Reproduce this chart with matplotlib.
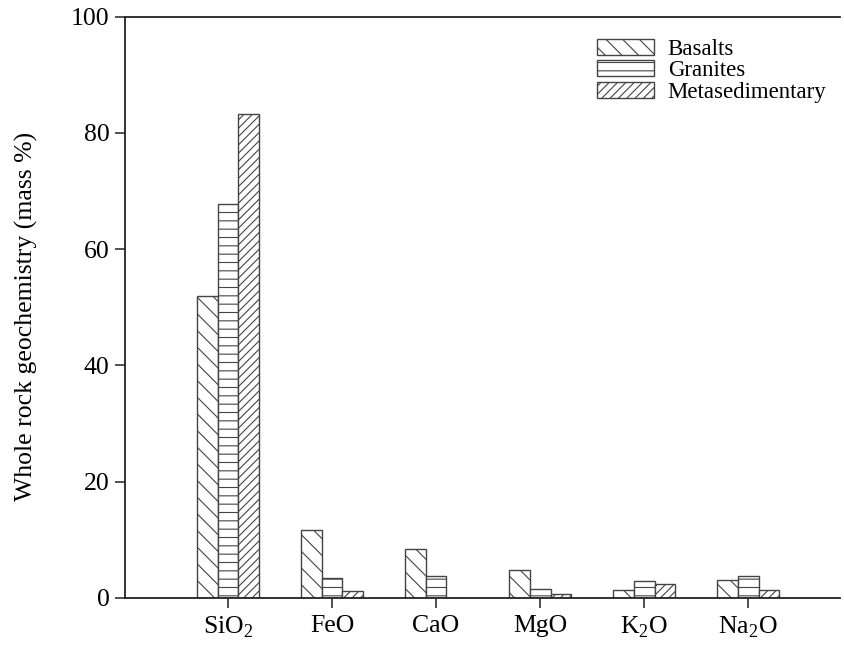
import numpy as np
import matplotlib.pyplot as plt

plt.rcParams['font.family'] = ['Liberation Serif', 'DejaVu Serif']
plt.rcParams['mathtext.fontset'] = 'custom'
plt.rcParams['mathtext.rm'] = 'Liberation Serif'
plt.rcParams['hatch.linewidth'] = 0.8

# dados
oxidos = ["SiO$_2$", "FeO", "CaO", "MgO", "K$_2$O", "Na$_2$O"]
basaltos = [52.0, 11.7, 8.5, 4.8, 1.4, 3.1]
granitos = [67.8, 3.4, 3.8, 1.55, 2.9, 3.8]
metassed = [83.3, 1.2, 0.0, 0.7, 2.4, 1.3]

fig = plt.figure(figsize=(8.44, 6.45), dpi=100)
ax = fig.add_axes([0.148, 0.073, 0.847, 0.901])

x = np.arange(len(oxidos))
w = 0.2
ec = "#444444"
ax.bar(x - w, basaltos, w, color="white", edgecolor=ec, hatch="\\\\", lw=1, label="Basalts")
ax.bar(x, granitos, w, color="white", edgecolor=ec, hatch="--", lw=1, label="Granites")
ax.bar(x + w, metassed, w, color="white", edgecolor=ec, hatch="////", lw=1, label="Metasedimentary")

ax.set_xlim(-0.99, 5.88)
ax.set_ylim(0, 100)
ax.set_yticks([0, 20, 40, 60, 80, 100])
ax.set_xticks(x)
ax.set_xticklabels(oxidos)
ax.tick_params(axis="both", labelsize=18.5, length=7, width=1.2, color="#333333")
ax.tick_params(axis="y", pad=4)
ax.tick_params(axis="x", pad=5)
ax.set_ylabel("Whole rock geochemistry (mass %)", fontsize=18.5, labelpad=24)
ax.yaxis.label.set_y(0.485)

ax.spines["right"].set_visible(False)
for s in ["left", "bottom", "top"]:
    ax.spines[s].set_linewidth(1.3)
    ax.spines[s].set_color("#222222")

leg = ax.legend(loc="upper left", bbox_to_anchor=(0.66, 0.962), frameon=False,
                fontsize=16.5, handlelength=2.5, handleheight=0.7,
                handletextpad=0.6, labelspacing=0.02,
                borderaxespad=0, borderpad=0)

fig.savefig("out.png", dpi=100)
